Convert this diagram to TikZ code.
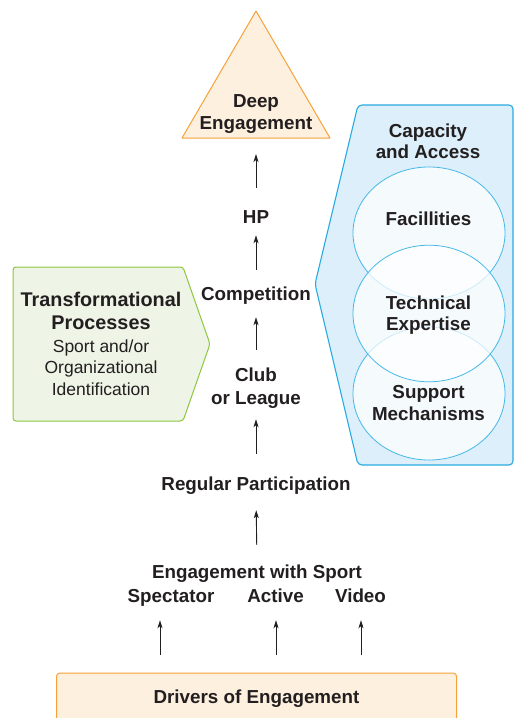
\documentclass[tikz,border=0pt]{standalone}
\usepackage{fontspec}
\setmainfont{Liberation Sans}
\usetikzlibrary{arrows.meta}
\definecolor{txt}{HTML}{231F20}
\definecolor{orangeS}{HTML}{F7A13A}
\definecolor{peach}{HTML}{FDF0DE}
\definecolor{greenS}{HTML}{8DC63F}
\definecolor{greenF}{HTML}{EEF5E6}
\definecolor{blueS}{HTML}{29ABE2}
\definecolor{blueF}{HTML}{DCEFFA}
\definecolor{circS}{HTML}{45B8E8}
\begin{document}
\begin{tikzpicture}[x=1pt,y=-1pt,
  lbl/.style={font=\fontsize{18.8}{22}\selectfont\bfseries, text=txt, inner sep=0pt, anchor=base, text height=13.5pt, text depth=4pt},
  biglbl/.style={lbl, font=\fontsize{19.8}{23}\selectfont\bfseries},
  plainlbl/.style={lbl, font=\fontsize{17.5}{22}\selectfont},
  arr/.style={-{Stealth[length=8pt,width=5pt,inset=2pt]}, line width=0.9pt, draw=txt},
  venn/.style={draw=circS, line width=0.8pt, fill=white, fill opacity=0.72}]
\useasboundingbox (0,0) rectangle (517,718);

% Deep engagement triangle
\draw[draw=orangeS, fill=peach, line width=1pt, line join=round] (256,11) -- (330,138) -- (182,138) -- cycle;
\coordinate (deepb) at (256,138);
\node[lbl] (deep1) at (256,107) {Deep};
\node[lbl] (deep2) at (256,129) {Engagement};

% Transformational processes (green pentagon)
\draw[draw=greenS, fill=greenF, line width=1pt, rounded corners=3pt]
  (13,267) -- (183,267) -- (210,344) -- (183,421) -- (13,421) -- cycle;
\node[biglbl] (tp1) at (101,306) {Transformational};
\node[biglbl] (tp2) at (101,329) {Processes};
\node[plainlbl] (tp3) at (101,352) {Sport and/or};
\node[plainlbl] (tp4) at (101,373.5) {Organizational};
\node[plainlbl] (tp5) at (101,395) {Identification};

% Capacity and access (blue pentagon)
\draw[draw=blueS, fill=blueF, line width=1.1pt, rounded corners=4pt]
  (358,105) -- (513,105) -- (513,465) -- (358,465) -- (315,284) -- cycle;
\node[lbl] (ca1) at (428,137) {Capacity};
\node[lbl] (ca2) at (428,158) {and Access};
\draw[venn] (429,233) ellipse [x radius=76, y radius=66];
\draw[venn] (429,393.5) ellipse [x radius=76, y radius=66.5];
\draw[venn] (429,313.5) ellipse [x radius=76, y radius=68.3];
\node[lbl] (fac) at (428.5,225) {Facillities};
\node[lbl] (te1) at (428.5,309) {Technical};
\node[lbl] (te2) at (428.5,330.5) {Expertise};
\node[lbl] (sm1) at (428.5,398.5) {Support};
\node[lbl] (sm2) at (428.5,420) {Mechanisms};

% central column
\node[lbl] (hp) at (256,223) {HP};
\node[lbl] (comp) at (256,300) {Competition};
\node[lbl] (club1) at (256,381) {Club};
\node[lbl] (club2) at (256,404) {or League};
\node[lbl] (reg) at (256,490) {Regular Participation};
\node[lbl] (eng) at (257,578.5) {Engagement with Sport};
\node[lbl] (spec) at (171,602.7) {Spectator};
\node[lbl] (act) at (275.5,602.7) {Active};
\node[lbl] (vid) at (360.5,602.7) {Video};

% drivers box (cut by the page bottom)
\node[draw=orangeS, fill=peach, line width=1pt, rounded corners=3pt,
  minimum width=400pt, minimum height=51pt, anchor=north, inner sep=0pt,
  text height=13.5pt, text depth=4pt, text=txt,
  font=\fontsize{18.8}{22}\selectfont\bfseries] (drivers) at (256.5,672.7) {Drivers of Engagement};

% arrows
\draw[arr, shorten <=21.5pt, shorten >=16pt] (hp.north) -- (deepb);
\draw[arr, shorten <=16.5pt, shorten >=8pt] (comp.north) -- (hp.south);
\draw[arr, shorten <=17.5pt, shorten >=13pt] (club1.north) -- (comp.south);
\draw[arr, shorten <=22.5pt, shorten >=11pt] (reg.north) -- (club2.south);
\draw[arr, shorten <=20pt, shorten >=16pt] (eng.north) -- (reg.south);

\coordinate (s1) at ([xshift=-11pt]spec.south);
\coordinate (s2) at ([xshift=0.5pt]act.south);
\coordinate (s3) at ([xshift=0.5pt]vid.south);
\draw[arr, shorten <=17.7pt, shorten >=13.3pt] (s1 |- drivers.north) -- (s1);
\draw[arr, shorten <=17.7pt, shorten >=13.3pt] (s2 |- drivers.north) -- (s2);
\draw[arr, shorten <=17.7pt, shorten >=13.3pt] (s3 |- drivers.north) -- (s3);
\end{tikzpicture}
\end{document}
